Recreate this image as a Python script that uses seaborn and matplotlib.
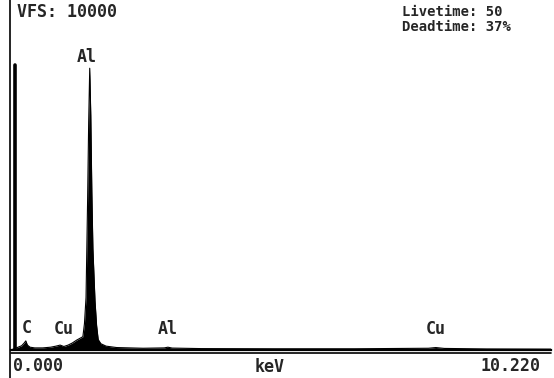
import matplotlib
matplotlib.use("Agg")
import matplotlib.pyplot as plt
import seaborn as sns
import pandas as pd
from matplotlib.lines import Line2D

# Spectrum data (energy in keV, counts)
energy = [0.00, 0.10, 0.20, 0.25, 0.28, 0.31, 0.36, 0.45, 0.60, 0.75, 0.85, 0.93, 1.00,
          1.08, 1.16, 1.24, 1.30, 1.36, 1.39, 1.42, 1.45, 1.47, 1.49, 1.51, 1.53, 1.55,
          1.59, 1.62, 1.65, 1.70, 1.80, 2.00, 2.50, 2.90, 2.97, 3.05, 3.60, 5.00, 6.50,
          7.90, 8.04, 8.20, 9.00, 10.22]
counts = [0, 60, 120, 200, 260, 140, 80, 60, 60, 80, 110, 140, 100,
          140, 200, 280, 330, 380, 750, 1500, 4300, 6500, 8050, 6700, 4500, 2900,
          1400, 700, 300, 180, 110, 70, 50, 60, 80, 55, 40, 35, 35, 50, 70, 45, 30, 25]

peak_labels = ["C", "Cu", "Al", "Al", "Cu"]
peak_energy = [0.30, 1.00, 1.49, 2.97, 8.04]

x_min, x_max = 0.0, 10.22
vfs = 10000
header_left = "VFS: 10000"
header_right = ["Livetime: 50", "Deadtime: 37%"]
x_tick_labels = ["0.000", "keV", "10.220"]

df = pd.DataFrame({"energy": energy, "counts": counts})

sns.set_style("white")
fig = plt.figure(figsize=(5.54, 3.78), dpi=100)
W, H = 554, 378
ax = fig.add_axes([11 / W, (378 - 350) / H, 540 / W, 350 / H])

ax.fill_between(df["energy"], df["counts"], color="black", lw=0)
sns.lineplot(data=df, x="energy", y="counts", ax=ax, color="black", lw=0.8)

ax.set_xlim(x_min, x_max)
ax.set_ylim(0, vfs)
ax.set_xticks([])
ax.set_yticks([])
ax.set_xlabel("")
ax.set_ylabel("")
for s in ["top", "right", "left"]:
    ax.spines[s].set_visible(False)
ax.spines["bottom"].set_linewidth(1.6)
ax.spines["bottom"].set_color("black")

# double baseline and left frame line
fig.add_artist(Line2D([11 / W, 551 / W], [(378 - 353) / H] * 2, color="black", lw=1.2,
                      transform=fig.transFigure))
fig.add_artist(Line2D([10 / W, 10 / W], [0, 1], color="black", lw=1.2,
                      transform=fig.transFigure))
# scale marker bar near left edge
ax.axvline(0.08, ymin=0, ymax=(350 - 65) / 350, color="black", lw=2.6)

mono = {"family": "DejaVu Sans Mono", "weight": "bold"}

fig.text(17 / W, 1 - 12 / H, header_left, fontsize=12, va="center", ha="left", **mono)
fig.text(402 / W, 1 - 12 / H, header_right[0], fontsize=10, va="center", ha="left", **mono)
fig.text(402 / W, 1 - 27 / H, header_right[1], fontsize=10, va="center", ha="left", **mono)

# peak labels
label_y = [380, 350, None, 350, 350]
for lab, e, ly in zip(peak_labels, peak_energy, label_y):
    if ly is None:
        ax.text(e - 0.05, max(counts) + 60, lab, fontsize=12, ha="center", va="bottom", **mono)
    else:
        ax.text(e, ly, lab, fontsize=12, ha="center", va="bottom", **mono)

# axis labels below the baseline
fig.text(13 / W, 1 - 366 / H, x_tick_labels[0], fontsize=12, va="center", ha="left", **mono)
fig.text(270 / W, 1 - 367 / H, x_tick_labels[1], fontsize=12, va="center", ha="center", **mono)
fig.text(541 / W, 1 - 366 / H, x_tick_labels[2], fontsize=12, va="center", ha="right", **mono)

fig.savefig("out.png", dpi=100)
